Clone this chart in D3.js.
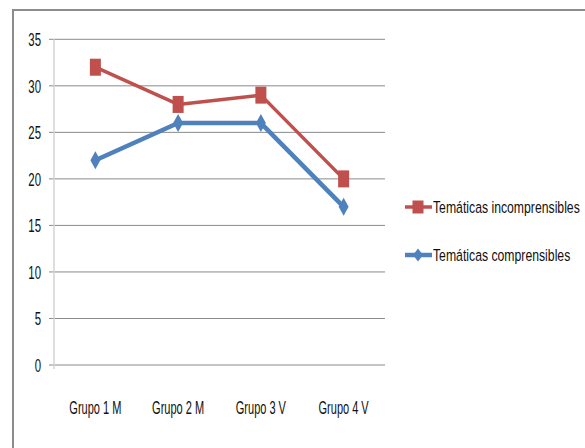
<!DOCTYPE html>
<html><head><meta charset="utf-8">
<script src="https://cdn.jsdelivr.net/npm/d3@7/dist/d3.min.js"></script>
<style>
body{margin:0;background:#fff;}
text{font-family:"Liberation Sans",Arial,sans-serif;}
</style></head>
<body><svg id="c" width="585" height="448"></svg>
<script>
const categories = ["Grupo 1 M","Grupo 2 M","Grupo 3 V","Grupo 4 V"];
const incomprensibles = [32, 28, 29, 20];
const comprensibles = [22, 26, 26, 17];
const yTicks = [0,5,10,15,20,25,30,35];
const seriesNames = ["Temáticas incomprensibles","Temáticas comprensibles"];
const colors = ["#C0504D","#4F81BD"];

const svg = d3.select("#c");
svg.append("rect").attr("x",13).attr("y",10).attr("width",600).attr("height",460)
  .attr("fill","#fff").attr("stroke","#8c8c8c").attr("stroke-width",2);

const x = d3.scaleBand().domain(categories).range([54,385]);
const y = d3.scaleLinear().domain([0,35]).range([365,39.3]);
const cx = c => x(c) + x.bandwidth()/2;

// condensed text helper
function ctext(g, px, py, str, size, sx, anchor){
  return g.append("text").attr("transform",`translate(${px},${py}) scale(${sx},1)`)
    .attr("text-anchor",anchor).attr("font-size",size).attr("fill","#111").text(str);
}

svg.append("g").selectAll("line").data(yTicks).join("line")
  .attr("x1",49).attr("x2",385).attr("y1",d=>y(d)).attr("y2",d=>y(d))
  .attr("stroke","#8a8a8a").attr("stroke-width",1);
svg.append("line").attr("x1",54).attr("x2",54).attr("y1",y(35)).attr("y2",y(0)+4)
  .attr("stroke","#d4d4d4").attr("stroke-width",1.5);

const gy = svg.append("g");
yTicks.forEach(t=>ctext(gy, 41, y(t)+7, String(t), 19, 0.6, "end"));

const gx = svg.append("g");
categories.forEach(c=>ctext(gx, cx(c), 414, c, 19, 0.58, "middle"));

const line = d3.line().x((d,i)=>cx(categories[i])).y(d=>y(d));

function square(g, px, py, c, w, h){
  g.append("rect").attr("x",px-w/2).attr("y",py-h/2).attr("width",w).attr("height",h).attr("fill",c);
}
function diamond(g, px, py, c, w, h){
  g.append("path").attr("d",`M${px},${py-h/2}L${px+w/2},${py}L${px},${py+h/2}L${px-w/2},${py}Z`).attr("fill",c);
}

svg.append("path").datum(comprensibles).attr("d",line).attr("fill","none")
  .attr("stroke",colors[1]).attr("stroke-width",4.5).attr("stroke-linejoin","round");
const gb = svg.append("g");
comprensibles.forEach((v,i)=>diamond(gb, cx(categories[i]), y(v), colors[1], 10, 18));

svg.append("path").datum(incomprensibles).attr("d",line).attr("fill","none")
  .attr("stroke",colors[0]).attr("stroke-width",3.5).attr("stroke-linejoin","round");
const gr = svg.append("g");
incomprensibles.forEach((v,i)=>square(gr, cx(categories[i]), y(v), colors[0], 11, 17));

const leg = svg.append("g");
const ly = [207, 255];
seriesNames.forEach((n,i)=>{
  leg.append("line").attr("x1",405).attr("x2",432).attr("y1",ly[i]).attr("y2",ly[i])
    .attr("stroke",colors[i]).attr("stroke-width",i===0?3.5:4.5);
  if(i===0) square(leg,418,ly[i],colors[0],11,13); else diamond(leg,418,ly[i],colors[1],10,13);
  ctext(leg, 433, ly[i]+6, n, 17, 0.72, "start");
});
</script></body></html>
